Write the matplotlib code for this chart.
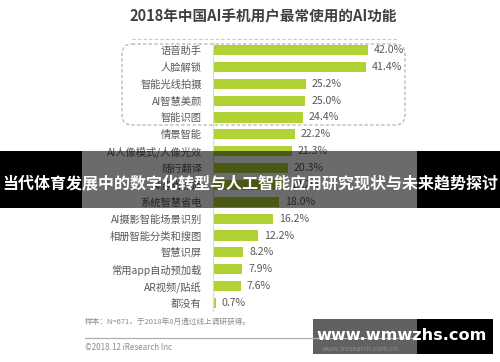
import matplotlib.pyplot as plt
from matplotlib.patches import FancyBboxPatch, Rectangle

plt.rcParams['font.family'] = ['Noto Sans CJK SC', 'DejaVu Sans']

# Data
labels = ['语音助手', '人脸解锁', '智能光线拍摄', 'AI智慧美颜', '智能识图', '情景智能',
          'AI人像模式/人像光效', '随行翻译', 'AI游戏加速', '系统智慧省电',
          'AI摄影智能场景识别', '相册智能分类和搜图', '智慧识屏', '常用app自动预加载',
          'AR视频/贴纸', '都没有']
values = [42.0, 41.4, 25.2, 25.0, 24.4, 22.2, 21.3, 20.3, 19.2, 18.0,
          16.2, 12.2, 8.2, 7.9, 7.6, 0.7]

title = '2018年中国AI手机用户最常使用的AI功能'
banner = '当代体育发展中的数字化转型与人工智能应用研究现状与未来趋势探讨'
note = '样本：N=671，于2018年8月通过线上调研获得。'
copyright_text = '©2018.12 iResearch Inc'
site = 'www.iresearch.com.cn'
watermark = 'www.wmwzhs.com'

W, H = 500, 362
fig = plt.figure(figsize=(W / 100, H / 100), dpi=100)
fig.patch.set_facecolor('white')

# bar axes, placed in pixel terms
top_px, bot_px = 41.6, 311.4
left_px, right_px = 213, 397.5
ax = fig.add_axes([left_px / W, 1 - bot_px / H, (right_px - left_px) / W, (bot_px - top_px) / H])
ax.set_zorder(1)
ax.patch.set_alpha(0)

y = list(range(len(labels)))
ax.barh(y, values, height=0.6, color='#b0d235')
for yi, v in zip(y, values):
    ax.text(v + 1.6, yi, f'{v:.1f}%', va='center', ha='left', fontsize=7.6, color='#595959')

ax.set_xlim(0, 50)
ax.set_ylim(len(labels) - 0.5, -0.5)
ax.set_yticks(y)
ax.set_yticklabels(labels, fontsize=7.4, color='#595959')
ax.tick_params(axis='y', length=0, pad=8)
ax.set_xticks([])
for s in ['top', 'right', 'bottom']:
    ax.spines[s].set_visible(False)
ax.spines['left'].set_color('#d9d9d9')
ax.spines['left'].set_linewidth(0.8)

# overlay axes in pixel coordinates for decorations
ov = fig.add_axes([0, 0, 1, 1])
ov.set_zorder(2)
ov.patch.set_alpha(0)
ov.set_xlim(0, W)
ov.set_ylim(H, 0)
ov.axis('off')

ov.text(263, 16, title, ha='center', va='center', fontsize=10.5, fontweight='bold', color='#404040')
ov.plot([132, 397], [39, 39], ls=(0, (3, 2)), color='#c8c8c8', lw=0.8)

ov.add_patch(FancyBboxPatch((122, 44), 283, 81, boxstyle='round,pad=0,rounding_size=10',
                            fill=False, ls=(0, (3, 2)), ec='#aaaaaa', lw=0.8))

# footer
ov.text(85, 322, note, ha='left', va='center', fontsize=5.5, color='#8c8c8c')
ov.plot([85, 415], [338, 338], color='#b0b0b0', lw=0.9)
ov.text(85, 348, copyright_text, ha='left', va='center', fontsize=5.8, color='#8c8c8c')
ov.text(322, 349, site, ha='left', va='center', fontsize=5.2, color='#8c8c8c')

# banner over the chart
ov.add_patch(Rectangle((0, 151), 82, 57, color='black', lw=0))
ov.add_patch(Rectangle((82, 151), 335, 57, color='black', alpha=0.58, lw=0))
ov.add_patch(Rectangle((417, 151), 83, 57, color='black', lw=0))
ov.text(250, 183, banner, ha='center', va='center', fontsize=11.5, fontweight='bold', color='white')

# watermark box
ov.add_patch(Rectangle((313, 319), 104, 35, color='black', alpha=0.62, lw=0))
ov.add_patch(Rectangle((417, 319), 76, 35, color='black', lw=0))
ov.text(402, 335, watermark, ha='center', va='center', fontsize=11.6, fontweight='bold',
        color='white', family='DejaVu Sans')

fig.savefig('out.png', dpi=100)
